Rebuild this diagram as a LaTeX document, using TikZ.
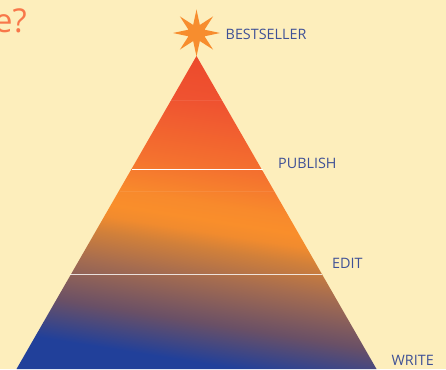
\documentclass[tikz,border=0pt]{standalone}
\usepackage{fontspec}
\setmainfont{Open Sans}
\usetikzlibrary{shapes.geometric}
\definecolor{pagebg}{HTML}{FDEEBC}
\definecolor{labelblue}{HTML}{3F5196}
\definecolor{starorange}{HTML}{F78D2E}
\definecolor{questionorange}{HTML}{F8774A}
\definecolor{g0}{HTML}{21409A}
\definecolor{g1}{HTML}{21409A}
\definecolor{g2}{HTML}{6A5066}
\definecolor{g3}{HTML}{A56C50}
\definecolor{g4}{HTML}{D1803A}
\definecolor{g45}{HTML}{F18B2E}
\definecolor{g5}{HTML}{F98E2B}
\definecolor{g55}{HTML}{F88A2C}
\definecolor{g6}{HTML}{F4712F}
\definecolor{g7}{HTML}{EF5230}
\definecolor{g8}{HTML}{EC4A2C}
\pgfdeclareverticalshading{pyramidfill}{800bp}{
 color(0bp)=(g0); color(90bp)=(g1); color(130bp)=(g2); color(174bp)=(g3);
 color(204bp)=(g4); color(220bp)=(g45); color(232bp)=(g5); color(248bp)=(g55); color(285bp)=(g6); color(350bp)=(g7);
 color(394bp)=(g8); color(500bp)=(g8)}
\tikzset{
 steplabel/.style={text=labelblue,font=\fontsize{14.4}{17}\selectfont,inner sep=0pt,anchor=base west},
 rule/.style={draw=white,line width=1.1bp},
 faintrule/.style={draw=white,draw opacity=.08,line width=.8bp}
}
\begin{document}
\begin{tikzpicture}[x=1bp,y=1bp]
\fill[pagebg] (0,0) rectangle (446,369);
\useasboundingbox (0,0) rectangle (446,369);
\coordinate (apex) at (196.5,313);
\coordinate (bl) at (16.5,0);
\coordinate (br) at (376.5,0);
\begin{scope}
 \clip (apex) -- (br) -- (bl) -- cycle;
 \node[inner sep=0pt,rotate=-9] at (196.5,169) {\pgfuseshading{pyramidfill}};
\end{scope}
\coordinate (u1) at (132,199.5);
\coordinate (u2) at (263,199.5);
\coordinate (l1) at (70,95);
\coordinate (l2) at (322,95);
\coordinate (f1) at (171,269);
\coordinate (f2) at (222,269);
\coordinate (f3) at (120,178);
\coordinate (f4) at (274,178);
\draw[rule] (u1) -- (u2);
\draw[rule,line width=1bp,draw opacity=.8] (l1) -- (l2);
\draw[faintrule] (f1) -- (f2);
\draw[faintrule] (f3) -- (f4);
\node[star,star points=8,star point ratio=2.7,minimum size=47bp,inner sep=0pt,fill=starorange] (topstar) at (196.5,336) {};
\node[steplabel] (best) at (225.5,329.5) {BESTSELLER};
\node[steplabel] (pub) at (278,201) {PUBLISH};
\node[steplabel] (edit) at (332,101) {EDIT};
\node[steplabel] (write) at (391.5,3.5) {WRITE};
\node[text=questionorange,font=\fontsize{33}{36}\selectfont,inner sep=0pt,anchor=base east] (q) at (27,337) {e?};
\end{tikzpicture}
\end{document}
